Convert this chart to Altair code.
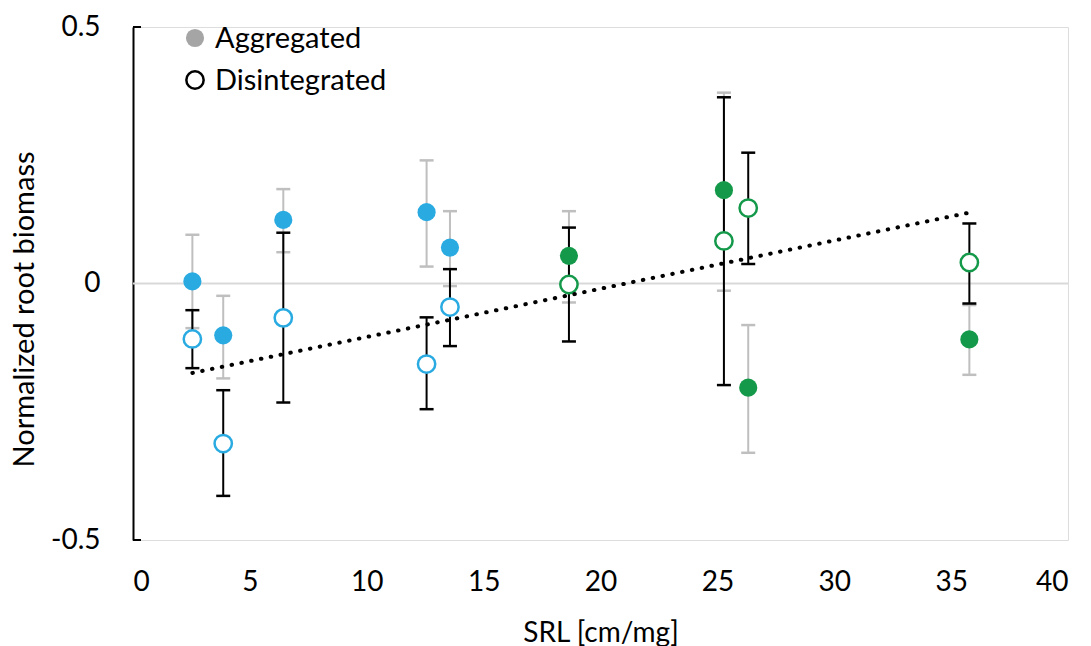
import altair as alt
import pandas as pd

# ---- data ----
srl = [2.54, 3.86, 6.43, 12.56, 13.56, 18.65, 25.28, 26.32, 35.78]
group = ["G1", "G1", "G1", "G1", "G1", "G2", "G2", "G2", "G2"]

agg_mean = [0.004, -0.101, 0.124, 0.139, 0.070, 0.054, 0.182, -0.203, -0.109]
agg_hi = [0.095, -0.024, 0.184, 0.240, 0.141, 0.141, 0.372, -0.081, -0.042]
agg_lo = [-0.087, -0.185, 0.061, 0.033, -0.005, -0.037, -0.014, -0.330, -0.178]

dis_mean = [-0.108, -0.312, -0.067, -0.157, -0.046, -0.002, 0.083, 0.147, 0.041]
dis_hi = [-0.052, -0.208, 0.099, -0.066, 0.028, 0.109, 0.363, 0.255, 0.117]
dis_lo = [-0.165, -0.414, -0.232, -0.245, -0.122, -0.113, -0.198, 0.038, -0.039]

x_ticks = [0, 5, 10, 15, 20, 25, 30, 35, 40]
y_ticks = [-0.5, 0, 0.5]
legend_labels = ["Aggregated", "Disintegrated"]

BLUE = "#29ABE2"
GREEN = "#14994A"
FONT = "Lato"
FS = 28
LFS = 29

agg = pd.DataFrame({"x": srl, "g": group, "m": agg_mean, "lo": agg_lo, "hi": agg_hi})
dis = pd.DataFrame({"x": srl, "g": group, "m": dis_mean, "lo": dis_lo, "hi": dis_hi})

xs = alt.Scale(domain=[0, 40], nice=False)
ys = alt.Scale(domain=[-0.5, 0.5], nice=False)
cs = alt.Scale(domain=["G1", "G2"], range=[BLUE, GREEN])

X = alt.X("x:Q", scale=xs,
          axis=alt.Axis(values=x_ticks, title="SRL [cm/mg]", grid=False, domain=False,
                        ticks=False, tickSize=0, labelPadding=28, labelFontSize=FS,
                        labelFont=FONT, labelColor="black", titleFont=FONT,
                        titleFontSize=FS, titleFontWeight="normal", titleColor="black",
                        titleY=93, titleBaseline="middle"))
Y = alt.Y("m:Q", scale=ys,
          axis=alt.Axis(values=y_ticks, title="Normalized root biomass", grid=False,
                        domain=True, domainColor="black", domainWidth=2, ticks=False,
                        tickSize=0, labelPadding=33, labelFontSize=FS, labelFont=FONT,
                        labelColor="black", labelExpr="toString(datum.value)",
                        titleFont=FONT, titleFontSize=LFS, titleFontWeight="normal",
                        titleColor="black", titleX=-109, titleY=282,
                        titleAlign="center", titleBaseline="middle"))

zero = alt.Chart(pd.DataFrame({"y": [0]})).mark_rule(color="#D9D9D9", strokeWidth=2).encode(
    y=alt.Y("y:Q", scale=ys), x=alt.value(0), x2=alt.value(935))

# inward ticks on the y axis
yt = alt.Chart(pd.DataFrame({"y": [-0.5, 0.5]})).mark_rule(color="black", strokeWidth=2).encode(
    y=alt.Y("y:Q", scale=ys), x=alt.value(0), x2=alt.value(8))


def bars(df, color):
    v = alt.Chart(df).mark_rule(color=color, strokeWidth=2).encode(
        x=alt.X("x:Q", scale=xs), y=alt.Y("lo:Q", scale=ys), y2="hi:Q")
    c1 = alt.Chart(df).mark_rule(color=color, strokeWidth=2.5, xOffset=-7, x2Offset=7).encode(
        x=alt.X("x:Q", scale=xs), x2="x:Q", y=alt.Y("hi:Q", scale=ys))
    c2 = alt.Chart(df).mark_rule(color=color, strokeWidth=2.5, xOffset=-7, x2Offset=7).encode(
        x=alt.X("x:Q", scale=xs), x2="x:Q", y=alt.Y("lo:Q", scale=ys))
    return v + c1 + c2


gray_bars = bars(agg, "#BFBFBF")
black_bars = bars(dis, "black")

filled = alt.Chart(agg).mark_circle(size=330, opacity=1).encode(
    x=X, y=Y, color=alt.Color("g:N", scale=cs, legend=None))

openp = alt.Chart(dis).mark_circle(size=300, opacity=1, fill="white", strokeWidth=2.5).encode(
    x=alt.X("x:Q", scale=xs), y=alt.Y("m:Q", scale=ys),
    stroke=alt.Stroke("g:N", scale=cs, legend=None))

trend = alt.Chart(dis).transform_regression("x", "m", method="linear").mark_line(
    color="black", strokeWidth=4, strokeDash=[0.5, 9.5], strokeCap="round").encode(
    x=alt.X("x:Q", scale=xs), y=alt.Y("m:Q", scale=ys))

# legend
leg = pd.DataFrame({"label": legend_labels})
leg_agg = alt.Chart(leg.iloc[[0]]).mark_circle(size=330, opacity=1, color="#A5A5A5").encode(
    x=alt.value(62), y=alt.value(11))
leg_dis = alt.Chart(leg.iloc[[1]]).mark_circle(size=300, opacity=1, fill="white",
                                               stroke="black", strokeWidth=2.5).encode(
    x=alt.value(62), y=alt.value(53))
leg_txt1 = alt.Chart(leg.iloc[[0]]).mark_text(align="left", baseline="middle", font=FONT,
                                              fontSize=LFS, color="black").encode(
    x=alt.value(82), y=alt.value(12), text="label:N")
leg_txt2 = alt.Chart(leg.iloc[[1]]).mark_text(align="left", baseline="middle", font=FONT,
                                              fontSize=LFS, color="black").encode(
    x=alt.value(82), y=alt.value(54), text="label:N")

chart = alt.layer(
    zero, gray_bars, black_bars, filled, openp, trend, yt,
    leg_agg, leg_dis, leg_txt1, leg_txt2
).properties(
    width=935, height=513,
    padding={"left": 133, "top": 27, "right": 23, "bottom": 106},
    autosize=alt.AutoSizeParams(type="none"),
).configure_view(strokeWidth=0).configure(background="white")

chart.save("out.html", embed_options={"renderer": "svg", "actions": False})
